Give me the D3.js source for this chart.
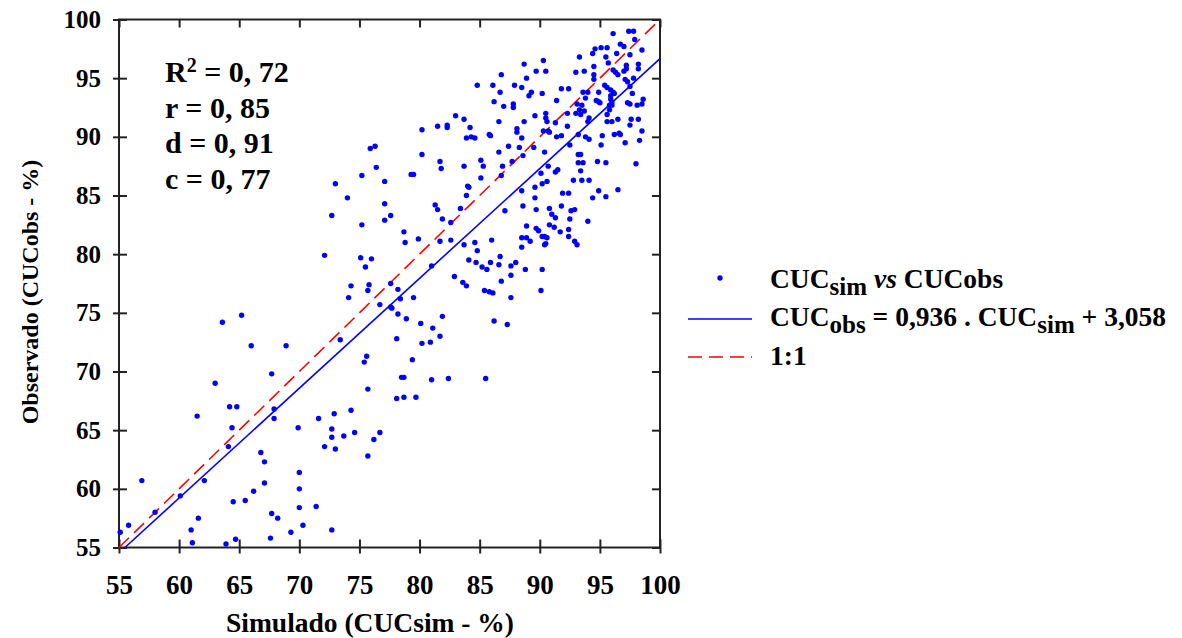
<!DOCTYPE html>
<html>
<head>
<meta charset="utf-8">
<script src="https://cdn.jsdelivr.net/npm/d3@7"></script>
<style>
	body { margin: 0; background: #fff; }
	svg text { font-family: 'Liberation Serif', 'Times New Roman', serif; font-weight: bold; fill: #000; }
</style>
</head>
<body>
<svg id="chart-svg" width="1182" height="638"></svg>
<script>
const points = [
	[84.8,94.4],[83.0,91.8],[83.7,91.5],[80.2,90.6],[81.5,90.9],[82.3,91.0],[82.3,90.8],[84.2,90.8],[83.9,89.9],[84.3,90.0],
	[84.6,89.9],[75.9,89.0],[76.3,89.2],[80.2,88.5],[81.7,87.9],[81.8,87.3],[83.7,87.5],[76.4,87.4],[75.2,86.7],[79.3,86.8],
	[79.5,86.8],[77.1,86.2],[73.0,86.0],[84.0,85.8],[84.1,85.7],[74.0,84.8],[83.9,85.0],
	[96.1,98.8],[97.4,99.0],[97.8,99.0],[97.9,98.3],[96.7,97.9],[97.0,97.7],[98.5,97.4],[94.6,97.5],[95.1,97.6],[95.6,97.6],
	[94.4,97.1],[96.4,97.1],[97.5,97.0],[93.3,96.8],[95.5,96.8],[90.3,96.5],[88.7,96.2],[94.5,96.0],[95.7,96.3],[97.2,96.1],
	[98.2,96.2],[98.2,95.8],[89.7,95.6],[90.5,95.6],[93.0,95.5],[93.7,95.6],[96.1,95.7],[96.3,95.5],[97.2,95.8],[97.0,95.6],
	[96.5,95.3],[86.8,95.3],[94.5,95.3],[88.9,95.0],[94.5,94.9],[97.1,94.9],[97.8,95.0],[97.3,94.7],[86.1,94.4],[87.9,94.4],
	[88.5,94.2],[91.8,94.1],[92.4,94.1],[95.4,94.4],[95.6,94.2],[95.9,94.0],[97.5,94.3],[86.7,93.8],[89.3,93.8],[89.1,93.5],
	[90.2,93.7],[93.6,93.8],[94.0,93.8],[94.9,93.8],[96.1,93.8],[96.2,93.7],[95.9,93.5],[97.7,93.7],[91.4,93.1],[93.8,93.3],
	[94.7,93.1],[94.9,93.0],[95.0,92.9],[95.9,93.2],[96.0,92.9],[96.0,92.7],[95.8,92.7],[98.6,93.2],[86.2,93.0],[87.8,92.8],
	[87.8,92.5],[87.0,92.6],[93.1,92.8],[93.5,92.7],[97.3,92.9],[97.5,92.8],[98.1,92.7],[98.5,92.8],[93.3,92.3],[93.7,92.2],
	[95.8,92.3],[90.5,92.0],[89.6,91.8],[90.5,91.6],[93.0,92.0],[93.4,91.9],[92.3,92.0],[95.6,91.9],[86.6,91.3],[88.7,91.3],
	[90.6,91.3],[91.3,91.2],[94.1,91.6],[94.0,91.3],[95.6,91.3],[96.0,91.3],[96.5,91.5],[97.6,91.5],[98.2,91.5],[97.5,91.0],
	[92.3,90.9],[88.1,90.7],[85.8,90.2],[85.9,90.1],[88.1,90.4],[90.3,90.5],[90.7,90.5],[90.8,90.4],[88.5,89.9],[91.4,90.0],
	[91.8,90.1],[93.2,90.2],[93.8,90.0],[94.1,89.8],[95.2,90.1],[96.2,90.2],[96.6,90.3],[96.7,90.2],[98.5,90.5],[98.3,89.7],
	[97.1,89.5],[87.4,89.2],[88.3,89.1],[89.5,89.1],[92.5,89.3],[95.1,89.3],[86.6,88.7],[88.6,88.4],[90.4,88.7],[93.2,88.5],
	[93.4,88.5],[94.8,87.9],[95.5,87.8],[85.1,88.0],[85.3,87.5],[87.7,87.9],[86.9,87.5],[90.7,87.5],[93.2,87.8],[93.6,87.8],
	[98.0,87.7],[90.1,86.9],[91.3,87.0],[91.5,87.2],[93.4,87.1],[86.8,86.7],[85.1,86.5],[90.2,86.0],[90.6,86.2],[92.8,86.3],
	[93.5,86.3],[94.1,86.3],[89.6,85.7],[88.5,85.4],[91.9,85.2],[92.4,85.2],[94.9,85.4],[96.5,85.5],[89.6,84.8],[94.4,84.8],
	[95.5,84.9],
	[63.6,74.2],[65.2,74.8],[66.0,72.2],[68.9,72.2],[67.7,69.8],
	[77.1,84.3],[81.3,84.2],[81.5,83.8],[83.4,83.9],[72.7,83.3],[77.6,83.3],[77.1,82.9],[81.9,83.0],[82.6,82.7],[75.2,82.5],
	[78.7,81.9],[79.9,81.3],[78.8,81.0],[81.7,81.1],[82.6,81.2],[83.7,80.8],[84.6,81.0],[84.8,80.3],[72.1,79.9],[75.1,79.7],
	[76.0,79.6],[75.5,78.9],[84.1,79.5],[84.7,79.3],[81.0,79.0],[82.9,78.1],[83.6,77.6],[83.9,77.3],[74.3,77.3],[75.8,77.4],
	[75.7,76.9],[77.6,77.5],[78.2,77.0],[74.1,76.3],[78.4,76.2],[79.5,76.3],[76.7,75.7],[77.6,75.5],[77.7,75.4],[78.2,74.9],
	[78.9,74.5],[81.9,74.7],[80.1,74.1],[81.1,73.7],[81.7,73.0],[78.1,72.8],[73.4,72.7],[80.2,72.4],[80.9,72.5],[75.6,71.3],
	[75.4,70.8],[79.4,71.0],[78.5,69.5],[78.7,69.5],[81.0,69.3],[82.4,69.4],
	[88.6,84.1],[87.1,83.7],[89.7,83.8],[90.8,83.9],[91.8,84.1],[92.6,83.7],[92.9,83.8],[91.0,83.4],[91.3,83.1],[92.5,83.0],
	[94.0,82.8],[88.9,82.4],[89.7,82.2],[89.9,82.0],[90.8,82.5],[91.2,82.3],[91.7,81.9],[92.4,82.1],[86.0,81.2],[88.5,81.4],
	[88.9,81.4],[89.2,81.1],[90.2,81.5],[90.4,81.5],[90.6,81.4],[90.5,80.9],[90.4,80.8],[92.4,81.5],[92.9,81.1],[93.1,80.8],
	[88.5,80.6],[86.7,79.8],[85.9,79.3],[86.6,79.1],[88.0,79.3],[87.6,79.0],[85.2,78.9],[85.6,78.7],[88.8,78.7],[90.2,78.7],
	[87.6,78.2],[86.8,77.7],[85.4,76.9],[85.8,76.8],[86.1,76.7],[90.1,76.9],[87.6,76.3],[86.2,74.3],[87.3,74.0],[85.5,69.4],
	[63.0,69.0],[64.2,67.0],[64.8,67.0],[61.5,66.2],[67.9,66.8],[67.9,66.0],[64.4,65.2],[69.9,65.2],[64.1,63.6],[66.8,63.1],
	[67.1,62.3],[70.0,61.4],[56.9,60.7],[62.1,60.7],[67.1,60.5],[66.2,59.8],[70.0,60.0],[60.1,59.4],[64.5,58.9],[65.5,59.0],
	[70.0,58.4],[58.0,58.0],[61.6,57.5],[67.7,57.9],[68.2,57.5],[55.8,56.9],[61.0,56.5],[69.3,56.3],[55.1,56.3],[67.6,55.8],
	[61.1,55.4],[63.9,55.3],[64.7,55.7],
	[75.7,68.5],[78.1,67.7],[78.7,67.8],[79.7,67.8],[74.3,66.7],[72.9,66.4],[71.6,66.0],[72.7,65.1],[72.7,64.4],[73.7,64.5],
	[74.6,64.8],[76.7,64.8],[76.2,64.2],[72.1,63.6],[73.0,63.4],[75.7,62.8],[71.4,58.5],[70.3,56.9],[72.7,56.5]
];

const AXIS_RANGE = [55, 100];
const xTicks = [55, 60, 65, 70, 75, 80, 85, 90, 95, 100];
const yTicks = [55, 60, 65, 70, 75, 80, 85, 90, 95, 100];
const SLOPE = 0.936;
const INTERCEPT = 3.058;
const stats = [
	{ name: 'R', sup: '2', value: '0, 72' },
	{ name: 'r', sup: '', value: '0, 85' },
	{ name: 'd', sup: '', value: '0, 91' },
	{ name: 'c', sup: '', value: '0, 77' }
];

const PLOT = { left: 119, right: 660, top: 19.5, bottom: 547.5 };
const svg = d3.select('#chart-svg');

const xScale = d3.scaleLinear().domain(AXIS_RANGE).range([PLOT.left, PLOT.right]);
const yScale = d3.scaleLinear().domain(AXIS_RANGE).range([PLOT.bottom, PLOT.top]);

// axes: inward ticks on all sides, labels left and bottom
const xAxis = d3.axisBottom(xScale).tickValues(xTicks).tickSize(-8).tickPadding(27);
const yAxis = d3.axisLeft(yScale).tickValues(yTicks).tickSize(-8).tickPadding(18);
const gx = svg.append('g').attr('transform', 'translate(0,' + PLOT.bottom + ')').call(xAxis);
const gy = svg.append('g').attr('transform', 'translate(' + PLOT.left + ',0)').call(yAxis);
gx.selectAll('.tick').append('line').attr('y2', 6);
gy.selectAll('.tick').append('line').attr('x2', -6);
svg
	.append('g')
	.attr('transform', 'translate(0,' + PLOT.top + ')')
	.call(d3.axisTop(xScale).tickValues(xTicks).tickSize(-8).tickFormat(''));
svg
	.append('g')
	.attr('transform', 'translate(' + PLOT.right + ',0)')
	.call(d3.axisRight(yScale).tickValues(yTicks).tickSize(-8).tickFormat(''));
svg.selectAll('.domain').remove();
svg.selectAll('.tick line').attr('stroke', '#222').attr('stroke-width', 2);
gx.selectAll('text').style('font-size', '27px').style('font-family', "'Liberation Serif', serif").style('font-weight', 'bold');
gy.selectAll('text').style('font-size', '25px').style('font-family', "'Liberation Serif', serif").style('font-weight', 'bold');

svg
	.append('rect')
	.attr('x', PLOT.left)
	.attr('y', PLOT.top)
	.attr('width', PLOT.right - PLOT.left)
	.attr('height', PLOT.bottom - PLOT.top)
	.attr('fill', 'none')
	.attr('stroke', '#222')
	.attr('stroke-width', 2);

// 1:1 line and fitted line
svg
	.append('line')
	.attr('x1', xScale(AXIS_RANGE[0]))
	.attr('y1', yScale(AXIS_RANGE[0]))
	.attr('x2', xScale(AXIS_RANGE[1]))
	.attr('y2', yScale(AXIS_RANGE[1]))
	.attr('stroke', '#ff0000')
	.attr('stroke-width', 1.6)
	.attr('stroke-dasharray', '14,7');
const fitStart = (AXIS_RANGE[0] - INTERCEPT) / SLOPE;
svg
	.append('line')
	.attr('x1', xScale(fitStart))
	.attr('y1', yScale(SLOPE * fitStart + INTERCEPT))
	.attr('x2', xScale(AXIS_RANGE[1]))
	.attr('y2', yScale(SLOPE * AXIS_RANGE[1] + INTERCEPT))
	.attr('stroke', '#0000ff')
	.attr('stroke-width', 1.6);

svg
	.selectAll('circle.dot')
	.data(points)
	.enter()
	.append('circle')
	.attr('class', 'dot')
	.attr('cx', (d) => xScale(d[0]))
	.attr('cy', (d) => yScale(d[1]))
	.attr('r', 2.7)
	.attr('fill', '#0000ff');

// statistics block
const statText = svg
	.selectAll('text.stat')
	.data(stats)
	.enter()
	.append('text')
	.attr('class', 'stat')
	.attr('x', 165)
	.attr('y', (d, i) => 82 + i * 35.5)
	.style('font-size', '30px');
statText.append('tspan').text((d) => d.name);
statText
	.filter((d) => d.sup !== '')
	.append('tspan')
	.attr('dy', -10)
	.style('font-size', '20px')
	.text((d) => d.sup);
statText
	.append('tspan')
	.attr('dy', (d) => (d.sup !== '' ? 10 : 0))
	.text((d) => ' = ' + d.value);

// axis titles
svg
	.append('text')
	.attr('x', 370)
	.attr('y', 632)
	.attr('text-anchor', 'middle')
	.style('font-size', '27.5px')
	.text('Simulado (CUCsim - %)');
svg
	.append('text')
	.attr('transform', 'translate(38,292) rotate(-90)')
	.attr('text-anchor', 'middle')
	.style('font-size', '24px')
	.text('Observado (CUCobs - %)');

// legend
const legend = svg.append('g').attr('transform', 'translate(688,0)');
legend.append('circle').attr('cx', 32).attr('cy', 278).attr('r', 2.7).attr('fill', '#0000ff');
legend.append('line').attr('x1', 0).attr('x2', 64).attr('y1', 319).attr('y2', 319).attr('stroke', '#0000ff').attr('stroke-width', 1.6);
legend
	.append('line')
	.attr('x1', 0)
	.attr('x2', 64)
	.attr('y1', 357)
	.attr('y2', 357)
	.attr('stroke', '#ff0000')
	.attr('stroke-width', 1.6)
	.attr('stroke-dasharray', '14,7');

const SUB = 7;
const t1 = legend.append('text').attr('x', 82).attr('y', 288).style('font-size', '27.5px');
t1.append('tspan').text('CUC');
t1.append('tspan').attr('dy', SUB).style('font-size', '25px').text('sim');
t1.append('tspan').attr('dy', -SUB).style('font-style', 'italic').text(' vs ');
t1.append('tspan').text('CUCobs');

const t2 = legend.append('text').attr('x', 82).attr('y', 326).style('font-size', '27.5px');
t2.append('tspan').text('CUC');
t2.append('tspan').attr('dy', SUB).style('font-size', '25px').text('obs');
t2.append('tspan').attr('dy', -SUB).text(' = 0,936 . CUC');
t2.append('tspan').attr('dy', SUB).style('font-size', '25px').text('sim');
t2.append('tspan').attr('dy', -SUB).text(' + 3,058');

legend.append('text').attr('x', 82).attr('y', 365).style('font-size', '27.5px').text('1:1');
</script>
</body>
</html>
